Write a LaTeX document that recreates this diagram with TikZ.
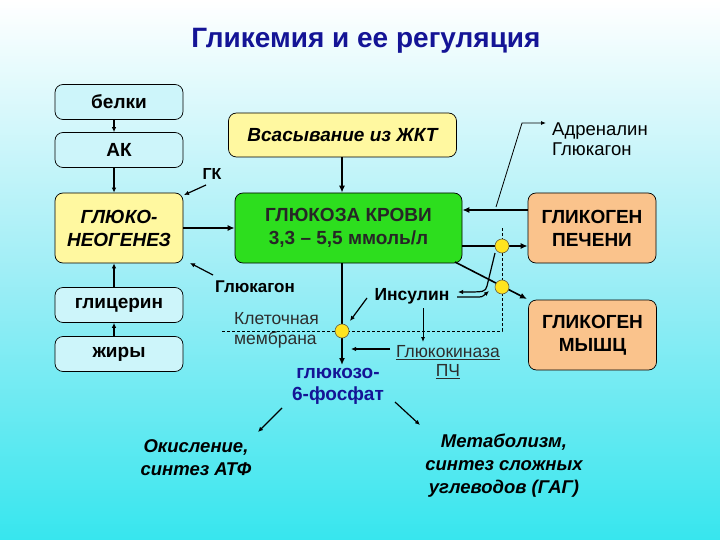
\documentclass[tikz,border=0pt]{standalone}
\usepackage{fontspec}
\setmainfont{Liberation Sans}
\usetikzlibrary{arrows.meta}
\definecolor{bgcyan}{RGB}{55,230,238}
\definecolor{boxcyan}{RGB}{205,245,250}
\definecolor{boxyellow}{RGB}{255,248,160}
\definecolor{boxgreen}{RGB}{45,222,30}
\definecolor{boxorange}{RGB}{250,195,140}
\definecolor{darkblue}{RGB}{20,20,150}
\definecolor{dotyellow}{RGB}{255,228,30}
\definecolor{graytext}{RGB}{45,45,45}
\tikzset{
  bx/.style={draw=black, line width=0.7pt, rounded corners=8pt, align=center, inner sep=0pt, text=black},
  cyanbox/.style={bx, fill=boxcyan, minimum width=128pt, minimum height=35pt, font=\bfseries\fontsize{19}{23}\selectfont},
  ybox/.style={bx, fill=boxyellow, font=\bfseries\itshape\fontsize{19}{23}\selectfont},
  obox/.style={bx, fill=boxorange, minimum width=128pt, minimum height=70pt, font=\bfseries\fontsize{19}{23}\selectfont},
  arr/.style={-{Latex[length=7pt,width=6pt]}, line width=1.6pt},
  sarr/.style={-{Latex[length=5pt,width=4.5pt]}, line width=1.2pt},
  tarr/.style={-{Latex[length=5pt,width=4pt]}, line width=0.8pt},
  ydot/.style={circle, fill=dotyellow, draw=black!70!yellow, line width=0.6pt, minimum size=14pt, inner sep=0pt},
  lbl/.style={inner sep=0pt, align=center},
  memb/.style={dashed, line width=0.8pt, dash pattern=on 3pt off 2pt}
}
\begin{document}
\begin{tikzpicture}[x=1pt,y=-1pt]
\shade[top color=white, bottom color=bgcyan, middle color={rgb,255:red,160;green,238;blue,246}] (0,0) rectangle (720,540);
\useasboundingbox (0,0) rectangle (720,540);

% title
\node[lbl, text=darkblue, font=\bfseries\fontsize{28}{32}\selectfont] (title) at (366,41) {Гликемия и ее регуляция};

% left column
\node[cyanbox] (belki) at (119,102) {белки};
\node[cyanbox] (ak) at (119,150) {АК};
\node[ybox, minimum width=128pt, minimum height=70pt] (gng) at (119,228) {ГЛЮКО-\\НЕОГЕНЕЗ};
\node[cyanbox] (glyc) at (119,305) {глицерин};
\node[cyanbox] (fats) at (119,354) {жиры};

% center
\node[ybox, minimum width=228pt, minimum height=44pt] (gut) at (342.5,135) {Всасывание из ЖКТ};
\node[bx, fill=boxgreen, minimum width=227pt, minimum height=70pt, font=\bfseries\fontsize{19}{23}\selectfont, text=black!85] (glu) at (348.5,228) {ГЛЮКОЗА КРОВИ\\3,3 – 5,5 ммоль/л};

% right
\node[obox] (liver) at (592,228) {ГЛИКОГЕН\\ПЕЧЕНИ};
\node[obox] (muscle) at (592.5,335) {ГЛИКОГЕН\\МЫШЦ};

% labels
\node[lbl, font=\bfseries\fontsize{16}{20}\selectfont] (gk) at (212,174) {ГК};
\node[lbl, font=\bfseries\fontsize{17}{20}\selectfont] (glucagon) at (255,287) {Глюкагон};
\node[lbl, font=\bfseries\fontsize{17.5}{20}\selectfont] (insulin) at (412,296) {Инсулин};
\node[lbl, anchor=west, align=left, font=\fontsize{18.5}{20}\selectfont] (adr) at (552,139) {Адреналин\\Глюкагон};
\node[lbl, anchor=west, align=left, text=graytext, font=\fontsize{17.5}{20}\selectfont] (membr) at (234,330) {Клеточная\\мембрана};
\node[lbl, text=graytext, font=\fontsize{17.5}{19}\selectfont] (gk2) at (448,362) {\underline{Глюкокиназа}\\\underline{ПЧ}};
\node[lbl, text=darkblue, font=\bfseries\fontsize{19}{22}\selectfont] (g6p) at (338,386) {глюкозо-\\6-фосфат};
\node[lbl, font=\bfseries\itshape\fontsize{18.5}{23}\selectfont] (ox) at (196,458) {Окисление,\\синтез АТФ};
\node[lbl, font=\bfseries\itshape\fontsize{18.5}{23}\selectfont] (met) at (504,466) {Метаболизм,\\синтез сложных\\углеводов (ГАГ)};

% helper coordinates
\coordinate (mL) at (222,331);
\coordinate (mC) at (502,331);
\coordinate (mT) at (502,228);
\coordinate (p1) at (342,331);
\coordinate (p2) at (502,246);
\coordinate (p3) at (502,287);

% membrane
\draw[memb] (mL) -- (mC) -- (mT);

% left column arrows
\draw[sarr] ([xshift=-5pt]belki.south) -- ([xshift=-5pt]ak.north);
\draw[sarr] ([xshift=-5pt]ak.south) -- ([xshift=-5pt]gng.north);
\draw[sarr] ([xshift=-5pt]glyc.north) -- ([xshift=-5pt]gng.south);
\draw[sarr] ([xshift=-5pt]fats.north) -- ([xshift=-5pt]glyc.south);

\draw[arr] (gng.east) -- (glu.west |- gng.east);
\draw[arr] (gut.south -| 342,0) -- (glu.north -| 342,0);

% liver arrows
\draw[arr] (liver.west |- 0,210) -- (glu.east |- 0,210);
\draw[arr] (glu.east |- p2) -- (liver.west |- p2);

% muscle arrow
\coordinate (gluSE) at (455,262);
\coordinate (musNW) at (527,299);
\draw[arr] (gluSE) -- (musNW);

% glucose to g6p
\draw[arr] (glu.south -| p1) -- (342,365);

% small pointers
\draw[sarr] (206,185) -- (184,195);
\draw[sarr] (213,275) -- (190,263);
\draw[sarr] (367,298) -- (350,321);
\draw[sarr] (390,349) -- (351,349);
\draw[tarr] (423,308) -- (423,342);
\draw[tarr] (496,207) -- (522,123) -- (546,123);

% insulin double arrows
\draw[sarr] (495,253) -- (487,286) .. controls (485,292) .. (458,292);
\draw[sarr] (457,297) -- (476,297) .. controls (482,297) .. (489,291);

% dots on top
\node[ydot] (d1) at (p1) {};
\node[ydot] (d2) at (p2) {};
\node[ydot] (d3) at (p3) {};

% g6p outputs
\draw[sarr] (282,408) -- (258,432);
\draw[sarr] (395,402) -- (420,425);
\end{tikzpicture}
\end{document}
